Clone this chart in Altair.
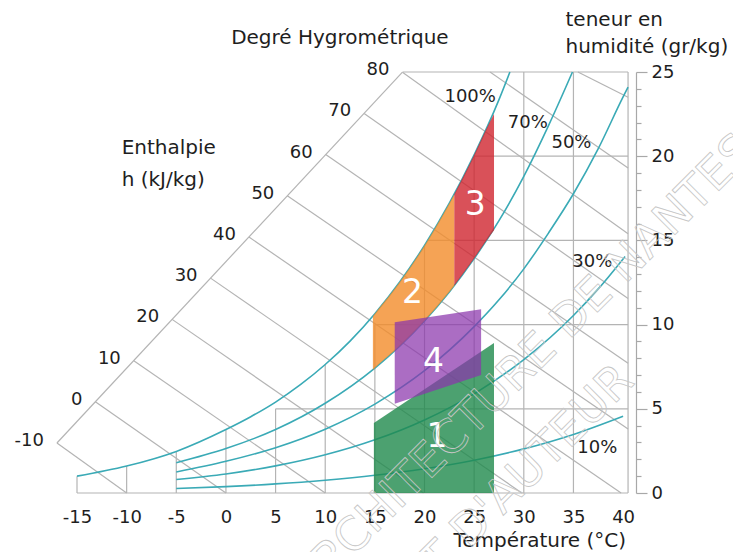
import altair as alt
import pandas as pd

FONT = "DejaVu Sans"
TXT = "#1e1e1e"
GRAY = "#b4b4b4"
TEAL = "#3aaab6"

# ---------------- data ----------------
# relative-humidity curves: dry-bulb temperature (°C) -> moisture content (g/kg)
T100 = [-15, -10, -5, 0, 2.5, 5, 7.5, 10, 12.5, 15, 17.5, 20, 22.5, 25, 27.5, 28.6]
W100 = [1.0, 1.6, 2.47, 3.77, 4.53, 5.40, 6.43, 7.63, 9.02, 10.65, 12.53, 14.70, 17.21, 20.08, 23.36, 25.0]
T70 = [-5, 0, 5, 10, 15, 17.5, 20, 22.5, 25, 27.5, 30, 32.5, 34.9]
W70 = [1.8, 2.64, 3.77, 5.33, 7.42, 8.72, 10.22, 11.94, 13.92, 16.17, 18.80, 21.83, 25.0]
T50 = [-5, 0, 5, 10, 15, 20, 25, 27.5, 30, 32.5, 35, 37.5, 40, 40.5]
W50 = [1.25, 1.88, 2.69, 3.79, 5.28, 7.26, 9.88, 11.47, 13.31, 15.45, 17.77, 20.45, 23.52, 24.1]
T30 = [-5, 0, 5, 10, 15, 20, 25, 30, 35, 37.5, 40.2]
W30 = [0.8, 1.13, 1.61, 2.27, 3.16, 4.34, 5.89, 7.92, 10.54, 12.12, 14.05]
T10 = [-5, 0, 5, 10, 15, 20, 25, 30, 35, 40]
W10 = [0.27, 0.38, 0.54, 0.76, 1.05, 1.44, 1.95, 2.62, 3.48, 4.56]

rh_names = ["100%", "70%", "50%", "30%", "10%"]
rh_T = [T100, T70, T50, T30, T10]
rh_W = [W100, W70, W50, W30, W10]
rh_lab_T = [24.6, 30.4, 34.8, 36.9, 37.4]
rh_lab_W = [23.5, 22.0, 20.8, 13.7, 2.7]

# rectangular grid (vertical: T from w=0 to top; horizontal: w from T start to right edge)
gv_T = [-15, -10, -5, 0, 5, 10, 15, 20, 25, 30, 35, 40.5]
gv_top = [1.0, 1.6, 2.47, 3.77, 5.0, 7.63, 10.0, 14.70, 20.08, 25, 25, 25]
gh_W = [0, 5, 10, 15, 20, 25]
gh_start = [-15, 5, 15, 20.3, 24.9, 17.8]
gh_end = [40.5, 40.5, 40.5, 40.5, 40.5, 40.5]

# enthalpy lines (kJ/kg): start and end points (T, w)
H = ["-10", "0", "10", "20", "30", "40", "50", "60", "70", "80", "90", "100"]
H_T0 = [-17.02, -13.15, -9.28, -5.42, -1.55, 2.32, 6.18, 10.05, 13.92, 17.78, 26.6, 35.45]
H_W0 = [2.97, 5.42, 7.86, 10.31, 12.76, 15.20, 17.65, 20.10, 22.54, 24.99, 25.0, 25.0]
H_T1 = [-10, 0, 10, 19.9, 29.8, 39.8, 40.5, 40.5, 40.5, 40.5, 40.5, 40.5]
H_W1 = [0, 0, 0, 0, 0, 0, 3.8, 7.7, 11.55, 15.4, 19.3, 23.5]
H_LABELLED = 10  # first ten lines carry a label

# comfort zones: T, lower w, upper w
Z1_T = [14.9, 27.0]
Z1_lo = [0, 0]
Z1_hi = [4.16, 8.9]
Z2_T = [14.8, 15, 17.5, 20, 22.5, 23.0]
Z2_lo = [7.3, 7.42, 8.72, 10.22, 11.94, 12.31]
Z2_hi = [10.5, 10.65, 12.53, 14.70, 17.21, 17.74]
Z3_T = [23.0, 25, 26, 27.0]
Z3_lo = [12.31, 13.92, 14.79, 15.6]
Z3_hi = [17.74, 20.08, 21.35, 22.5]
Z4_T = [17.0, 25.7]
Z4_lo = [5.3, 7.0]
Z4_hi = [10.14, 10.91]
zone_names = ["1", "2", "3", "4"]
zone_lab_T = [21.25, 18.8, 25.1, 20.9]
zone_lab_W = [3.3, 11.9, 17.1, 7.8]

x_ticks = [-15, -10, -5, 0, 5, 10, 15, 20, 25, 30, 35, 40]
y_ticks = list(range(0, 26))

titles = ["Degré Hygrométrique", "Enthalpie", "h (kJ/kg)", "teneur en", "humidité (gr/kg)", "Température (°C)"]
title_T = [11.48, -10.5, -10.5, 34.2, 34.2, 31.6]
title_W = [27.0, 20.5, 18.6, 28.1, 26.5, -2.83]
title_align = ["center", "left", "left", "left", "left", "center"]

wm_text = ["ARCHITECTURE DE NANTES", "DROIT D'AUTEUR"]
wm_T = [7.35, 12.1]
wm_W = [-5.82, -9.5]

# ---------------- scales / axes ----------------
XS = alt.Scale(domain=[-15, 41.3], nice=False, zero=False)
YS = alt.Scale(domain=[0, 25], nice=False, zero=False)
XAX = alt.Axis(values=x_ticks, domain=False, ticks=False, grid=False, title=None, labelFlush=False,
               labelPadding=15, labelFontSize=18, labelFont=FONT, labelColor=TXT,
               labelExpr="replace(datum.label, '\u2212', '-')")
YAX = alt.Axis(orient="right", values=y_ticks, grid=False, title=None, labelFlush=False,
               domainColor="#a8a8a8", tickColor="#a8a8a8", domainWidth=1.2, tickWidth=1.2,
               tickSize={"condition": {"test": "datum.value % 5 === 0", "value": 11}, "value": 5},
               labelExpr="datum.value % 5 === 0 ? datum.label : ''", labelOverlap=False,
               labelPadding=4, labelFontSize=18, labelFont=FONT, labelColor=TXT)


def X(f):
    return alt.X(f"{f}:Q", scale=XS, axis=XAX)


def Y(f):
    return alt.Y(f"{f}:Q", scale=YS, axis=YAX)


# ---------------- tables ----------------
rows = []
for name, ts, ws in zip(rh_names, rh_T, rh_W):
    for t, w in zip(ts, ws):
        rows.append({"curve": name, "T": t, "w": w})
curves = pd.DataFrame(rows)
rh_lab = pd.DataFrame({"txt": rh_names, "T": rh_lab_T, "w": rh_lab_W})

grid = pd.DataFrame(
    [{"T0": t, "w0": 0, "T1": t, "w1": top} for t, top in zip(gv_T, gv_top)]
    + [{"T0": a, "w0": w, "T1": b, "w1": w} for w, a, b in zip(gh_W, gh_start, gh_end)]
)
enth = pd.DataFrame({"h": H, "T0": H_T0, "w0": H_W0, "T1": H_T1, "w1": H_W1})
diag = pd.DataFrame({"T0": [H_T0[0]], "w0": [H_W0[0]], "T1": [H_T0[9]], "w1": [H_W0[9]]})
enth_lab = enth.iloc[:H_LABELLED]

zones = []
for z, ts, lo, hi in zip(zone_names, [Z1_T, Z2_T, Z3_T, Z4_T], [Z1_lo, Z2_lo, Z3_lo, Z4_lo], [Z1_hi, Z2_hi, Z3_hi, Z4_hi]):
    zones.append(pd.DataFrame({"zone": z, "T": ts, "lo": lo, "hi": hi}))
zone_lab = pd.DataFrame({"txt": zone_names, "T": zone_lab_T, "w": zone_lab_W})
ttl = pd.DataFrame({"txt": titles, "T": title_T, "w": title_W, "al": title_align})
wm = pd.DataFrame({"txt": wm_text, "T": wm_T, "w": wm_W})

# ---------------- layers ----------------
grid_l = alt.Chart(grid).mark_rule(color=GRAY, strokeWidth=1.2).encode(
    x=X("T0"), y=Y("w0"), x2="T1:Q", y2="w1:Q")
enth_l = alt.Chart(enth).mark_rule(color=GRAY, strokeWidth=1.2).encode(
    x=X("T0"), y=Y("w0"), x2="T1:Q", y2="w1:Q")
diag_l = alt.Chart(diag).mark_rule(color=GRAY, strokeWidth=1.2).encode(
    x=X("T0"), y=Y("w0"), x2="T1:Q", y2="w1:Q")
curve_l = alt.Chart(curves).mark_line(color=TEAL, strokeWidth=1.6, interpolate="monotone").encode(
    x=X("T"), y=Y("w"), detail="curve:N")

zone_colors = {"1": "#1f8a4c", "2": "#f28c2a", "3": "#cf2530", "4": "#8a34ac"}
zone_opac = {"1": 0.8, "2": 0.8, "3": 0.8, "4": 0.72}
zone_interp = {"1": "linear", "2": "monotone", "3": "monotone", "4": "linear"}
zone_layers = []
for z, df in zip(zone_names, zones):
    zone_layers.append(
        alt.Chart(df).mark_area(color=zone_colors[z], opacity=zone_opac[z], interpolate=zone_interp[z]).encode(
            x=X("T"), y=Y("lo"), y2="hi:Q"))

zone_txt = alt.Chart(zone_lab).mark_text(color="white", fontSize=33, font=FONT).encode(
    x=X("T"), y=Y("w"), text="txt:N")
rh_txt = alt.Chart(rh_lab).mark_text(color=TXT, fontSize=18, font=FONT).encode(
    x=X("T"), y=Y("w"), text="txt:N")
enth_txt = alt.Chart(enth_lab).mark_text(color=TXT, fontSize=18, font=FONT, align="right", dx=-13, dy=-2).encode(
    x=X("T0"), y=Y("w0"), text="h:N")
ttl_c = alt.Chart(ttl[ttl.al == "center"]).mark_text(color=TXT, fontSize=20, font=FONT, align="center").encode(
    x=X("T"), y=Y("w"), text="txt:N")
ttl_l = alt.Chart(ttl[ttl.al == "left"]).mark_text(color=TXT, fontSize=20, font=FONT, align="left").encode(
    x=X("T"), y=Y("w"), text="txt:N")
wm_l = alt.Chart(wm).mark_text(fontSize=46, font=FONT, align="left", baseline="middle", angle=315,
                               fillOpacity=0, stroke="#c6c6c6", strokeWidth=0.8).encode(
    x=X("T"), y=Y("w"), text="txt:N")

chart = alt.layer(
    grid_l, enth_l, diag_l, curve_l, *zone_layers, zone_txt, rh_txt, enth_txt, ttl_c, ttl_l, wm_l
).properties(
    width=559, height=421,
    padding={"left": 69, "top": 64, "right": 97, "bottom": 59},
    autosize=alt.AutoSizeParams(type="none"),
    background="white",
).configure_view(stroke=None)

chart.save("out.html", embed_options={"renderer": "svg", "actions": False})
